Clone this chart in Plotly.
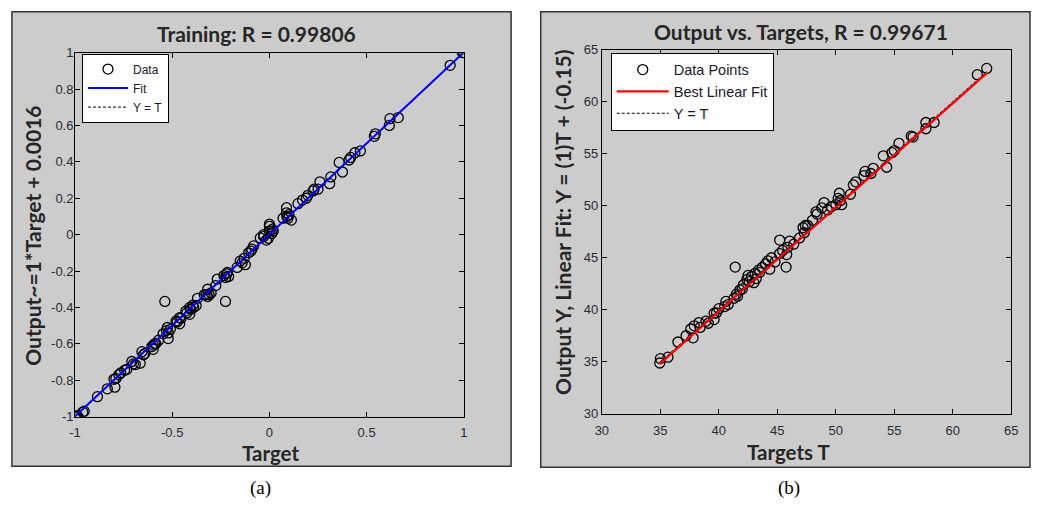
import numpy as np
import plotly.graph_objects as go

# ---------------- data ----------------
# (a) Training
train_target = [-1.0, -0.995, -0.99, -0.985, -0.953, -0.96, -0.885, -0.834, -0.795, -0.80, -0.79,
                -0.775, -0.765, -0.745, -0.733, -0.708, -0.70, -0.69, -0.665, -0.656, -0.64, -0.648,
                -0.597, -0.59, -0.585, -0.598, -0.605, -0.57, -0.547, -0.53, -0.521, -0.52, -0.525, -0.51,
                -0.538, -0.48, -0.475, -0.462, -0.462, -0.455, -0.43, -0.425, -0.41, -0.41, -0.405,
                -0.394, -0.377, -0.39, -0.37, -0.335, -0.318, -0.30, -0.318, -0.325, -0.31, -0.276,
                -0.268, -0.226, -0.234, -0.216, -0.21, -0.22, -0.225, -0.166, -0.15, -0.13, -0.124,
                -0.14, -0.107, -0.09, -0.081, -0.095, -0.047, -0.03, -0.005, -0.015, 0.012, 0.0, 0.0,
                0.015, -0.03, 0.0, 0.02, 0.07, 0.088, 0.088, 0.096, 0.113, 0.09, 0.10, 0.147, 0.17,
                0.198, 0.19, 0.225, 0.23, 0.26, 0.25, 0.31, 0.316, 0.359, 0.376, 0.41, 0.418, 0.44,
                0.468, 0.54, 0.545, 0.617, 0.62, 0.663, 0.93, 0.993, 1.0]
train_output = [-1.0, -1.0, -0.995, -1.0, -0.97, -0.975, -0.89, -0.847, -0.838, -0.795, -0.79,
                -0.77, -0.76, -0.745, -0.74, -0.697, -0.71, -0.714, -0.706, -0.643, -0.652, -0.66,
                -0.607, -0.60, -0.598, -0.63, -0.615, -0.58, -0.545, -0.527, -0.571, -0.54, -0.51, -0.52,
                -0.367, -0.474, -0.48, -0.456, -0.49, -0.46, -0.42, -0.43, -0.438, -0.40, -0.41,
                -0.388, -0.39, -0.40, -0.35, -0.33, -0.34, -0.32, -0.30, -0.33, -0.33, -0.28,
                -0.244, -0.367, -0.225, -0.208, -0.23, -0.215, -0.235, -0.18, -0.145, -0.13, -0.165,
                -0.155, -0.10, -0.08, -0.062, -0.09, -0.018, -0.01, -0.02, -0.03, 0.006, 0.057, 0.045,
                0.03, 0.0, 0.02, 0.02, 0.09, 0.148, 0.12, 0.09, 0.08, 0.10, 0.11, 0.17, 0.19,
                0.216, 0.20, 0.24, 0.25, 0.29, 0.25, 0.28, 0.317, 0.397, 0.344, 0.41, 0.424, 0.45,
                0.46, 0.54, 0.554, 0.60, 0.637, 0.643, 0.93, 1.0, 1.0]
train_fit = [1.0, 0.0016]          # slope, intercept

# (b) Output vs. Targets
test_target = [34.95, 35.0, 35.65, 36.5, 37.2, 37.8, 37.6, 37.9, 38.3, 38.4, 38.9, 39.1, 39.6, 39.6,
               40.0, 39.8, 40.6, 40.8, 40.5, 41.3, 41.5, 41.6, 41.8, 42.1, 42.0, 42.4, 42.5, 42.8,
               42.6, 43.1, 43.2, 43.0, 43.4, 43.7, 43.5, 44.0, 44.35, 44.2, 44.5, 44.8, 41.4, 45.2,
               45.45, 45.9, 45.75, 45.2, 46.05, 45.8, 46.4, 46.9, 47.2, 47.4, 47.3, 47.6, 48.0, 48.4,
               48.3, 48.8, 49.0, 49.3, 49.6, 50.0, 50.3, 50.2, 50.5, 50.4, 51.25, 51.5, 51.7, 52.4,
               52.5, 53.2, 53.0, 54.06, 54.35, 54.8, 55.0, 55.4, 56.45, 56.6, 57.7, 57.7, 58.4,
               62.1, 62.9]
test_output = [34.88, 35.3, 35.44, 36.9, 37.5, 37.3, 38.15, 38.45, 38.77, 38.3, 38.9, 38.7, 39.05, 39.67,
               40.1, 39.7, 40.8, 40.5, 40.3, 41.1, 41.5, 41.3, 41.9, 42.4, 42.0, 42.9, 43.3, 43.2,
               42.7, 43.5, 43.0, 42.6, 43.8, 44.06, 43.6, 44.4, 43.9, 44.7, 45.0, 44.6, 44.1, 45.4,
               45.7, 46.0, 44.1, 46.7, 46.6, 45.3, 46.3, 46.9, 47.9, 48.1, 47.4, 48.1, 48.6, 49.2,
               49.4, 49.8, 50.3, 49.6, 49.9, 50.1, 51.2, 50.7, 50.1, 50.5, 51.1, 52.0, 52.3, 52.9,
               53.3, 53.6, 53.1, 54.8, 53.7, 55.1, 55.3, 56.0, 56.7, 56.6, 57.4, 58.0, 58.0,
               62.6, 63.2]
test_fit = [1.0, -0.15]

x_ticks_a = [-1, -0.5, 0, 0.5, 1]
x_ticklabels_a = ["-1", "-0.5", "0", "0.5", "1"]
y_ticks_a = [-1, -0.8, -0.6, -0.4, -0.2, 0, 0.2, 0.4, 0.6, 0.8, 1]
y_ticklabels_a = ["-1", "-0.8", "-0.6", "-0.4", "-0.2", "0", "0.2", "0.4", "0.6", "0.8", "1"]
ticks_b = [30, 35, 40, 45, 50, 55, 60, 65]
ticklabels_b = ["30", "35", "40", "45", "50", "55", "60", "65"]

# ---------------- figure ----------------
W, H = 1038, 513
def px(x): return x / W
def py(y): return 1 - y / H

fig = go.Figure()

marker = dict(symbol="circle-open", size=10, color="black", line=dict(width=1.3, color="black"))
dash_style = "3px,2px"

# panel a
fig.add_trace(go.Scatter(x=train_target, y=train_output, mode="markers", marker=marker,
                         name="Data", legend="legend", legendrank=1, xaxis="x", yaxis="y"))
ta = np.array([-1.0, 1.0])
fig.add_trace(go.Scatter(x=ta, y=ta, mode="lines", line=dict(color="black", width=1, dash=dash_style),
                         name="Y = T", legend="legend", legendrank=3, xaxis="x", yaxis="y"))
fig.add_trace(go.Scatter(x=ta, y=train_fit[0] * ta + train_fit[1], mode="lines",
                         line=dict(color="#0000ff", width=2), name="Fit", legend="legend",
                         legendrank=2, xaxis="x", yaxis="y"))

# panel b
fig.add_trace(go.Scatter(x=test_target, y=test_output, mode="markers", marker=marker,
                         name="Data Points", legend="legend2", legendrank=1, xaxis="x2", yaxis="y2"))
tb = np.array([min(test_target), max(test_target)])
fig.add_trace(go.Scatter(x=tb, y=tb, mode="lines", line=dict(color="black", width=1, dash=dash_style),
                         name="Y = T", legend="legend2", legendrank=3, xaxis="x2", yaxis="y2"))
fig.add_trace(go.Scatter(x=tb, y=test_fit[0] * tb + test_fit[1], mode="lines",
                         line=dict(color="#ff0000", width=2.2), name="Best Linear Fit",
                         legend="legend2", legendrank=2, xaxis="x2", yaxis="y2"))

tickfont = dict(family="Liberation Sans, Arial", size=13, color="#2a2a33")
axis_common = dict(showline=True, linecolor="black", linewidth=1, mirror="ticks",
                   ticks="inside", ticklen=5, tickcolor="black", tickwidth=1,
                   showgrid=False, zeroline=False, tickfont=tickfont, fixedrange=True)

fig.update_layout(
    width=W, height=H, margin=dict(l=0, r=0, t=0, b=0),
    paper_bgcolor="white", plot_bgcolor="white",
    xaxis=dict(domain=[px(69), px(463)], range=[-1, 1], tickvals=x_ticks_a,
               ticktext=x_ticklabels_a, anchor="y", ticklabelstandoff=4, **axis_common),
    yaxis=dict(domain=[py(422), py(47)], range=[-1, 1], tickvals=y_ticks_a,
               ticktext=y_ticklabels_a, anchor="x", ticklabelstandoff=-2, **axis_common),
    xaxis2=dict(domain=[px(603), px(1018)], range=[30, 65], tickvals=ticks_b,
                ticktext=ticklabels_b, anchor="y2", ticklabelstandoff=5, **axis_common),
    yaxis2=dict(domain=[py(419), py(44)], range=[30, 65], tickvals=ticks_b,
                ticktext=ticklabels_b, anchor="x2", **axis_common),
    legend=dict(x=px(76), y=py(48), xanchor="left", yanchor="top", bgcolor="white",
                bordercolor="black", borderwidth=1, traceorder="normal",
                font=dict(family="Liberation Sans, Arial", size=12, color="#1a1a2a"),
                itemwidth=40, tracegroupgap=0),
    legend2=dict(x=px(612), y=py(47), xanchor="left", yanchor="top", bgcolor="white",
                 bordercolor="black", borderwidth=1, traceorder="normal",
                 font=dict(family="Liberation Sans, Arial", size=14.5, color="#1a1a2a"),
                 itemwidth=52, tracegroupgap=0),
    showlegend=True,
)

# gray figure panels
for x0, x1, y0, y1 in [(5, 511, 5, 473), (541, 1037, 5, 474)]:
    fig.add_shape(type="rect", xref="paper", yref="paper", x0=px(x0), x1=px(x1), y0=py(y1), y1=py(y0),
                  fillcolor="#cccccc", line=dict(color="#333333", width=1.5), layer="below")

title_font = dict(family="Lato, Open Sans", size=21, color="#262626")
label_font = dict(family="Lato, Open Sans", size=21, color="#262626")
xlabel_font = dict(family="Lato, Open Sans", size=20.5, color="#262626")
ann = [
    dict(text="<b>Training: R = 0.99806</b>", x=px(253), y=py(27), font=title_font),
    dict(text="<b>Output vs. Targets, R = 0.99671</b>", x=px(805), y=py(25), font=title_font),
    dict(text="<b>Target</b>", x=px(267), y=py(459), font=xlabel_font),
    dict(text="<b>Targets T</b>", x=px(792), y=py(458), font=xlabel_font),
    dict(text="<b>Output~=1*Target + 0.0016</b>", x=px(25), y=py(236), font=label_font, textangle=-90),
    dict(text="<b>Output Y, Linear Fit: Y = (1)T + (-0.15)</b>", x=px(563), y=py(222),
         font=label_font, textangle=-90),
    dict(text="(a)", x=px(257), y=py(496), font=dict(family="Liberation Serif, Times New Roman", size=19, color="black")),
    dict(text="(b)", x=px(793), y=py(496), font=dict(family="Liberation Serif, Times New Roman", size=19, color="black")),
]
for a in ann:
    fig.add_annotation(xref="paper", yref="paper", xanchor="center", yanchor="middle",
                       showarrow=False, **a)

fig.write_html("out.html", config={"displayModeBar": False},
               post_script="document.body.style.margin='0';document.body.style.overflow='hidden';")
